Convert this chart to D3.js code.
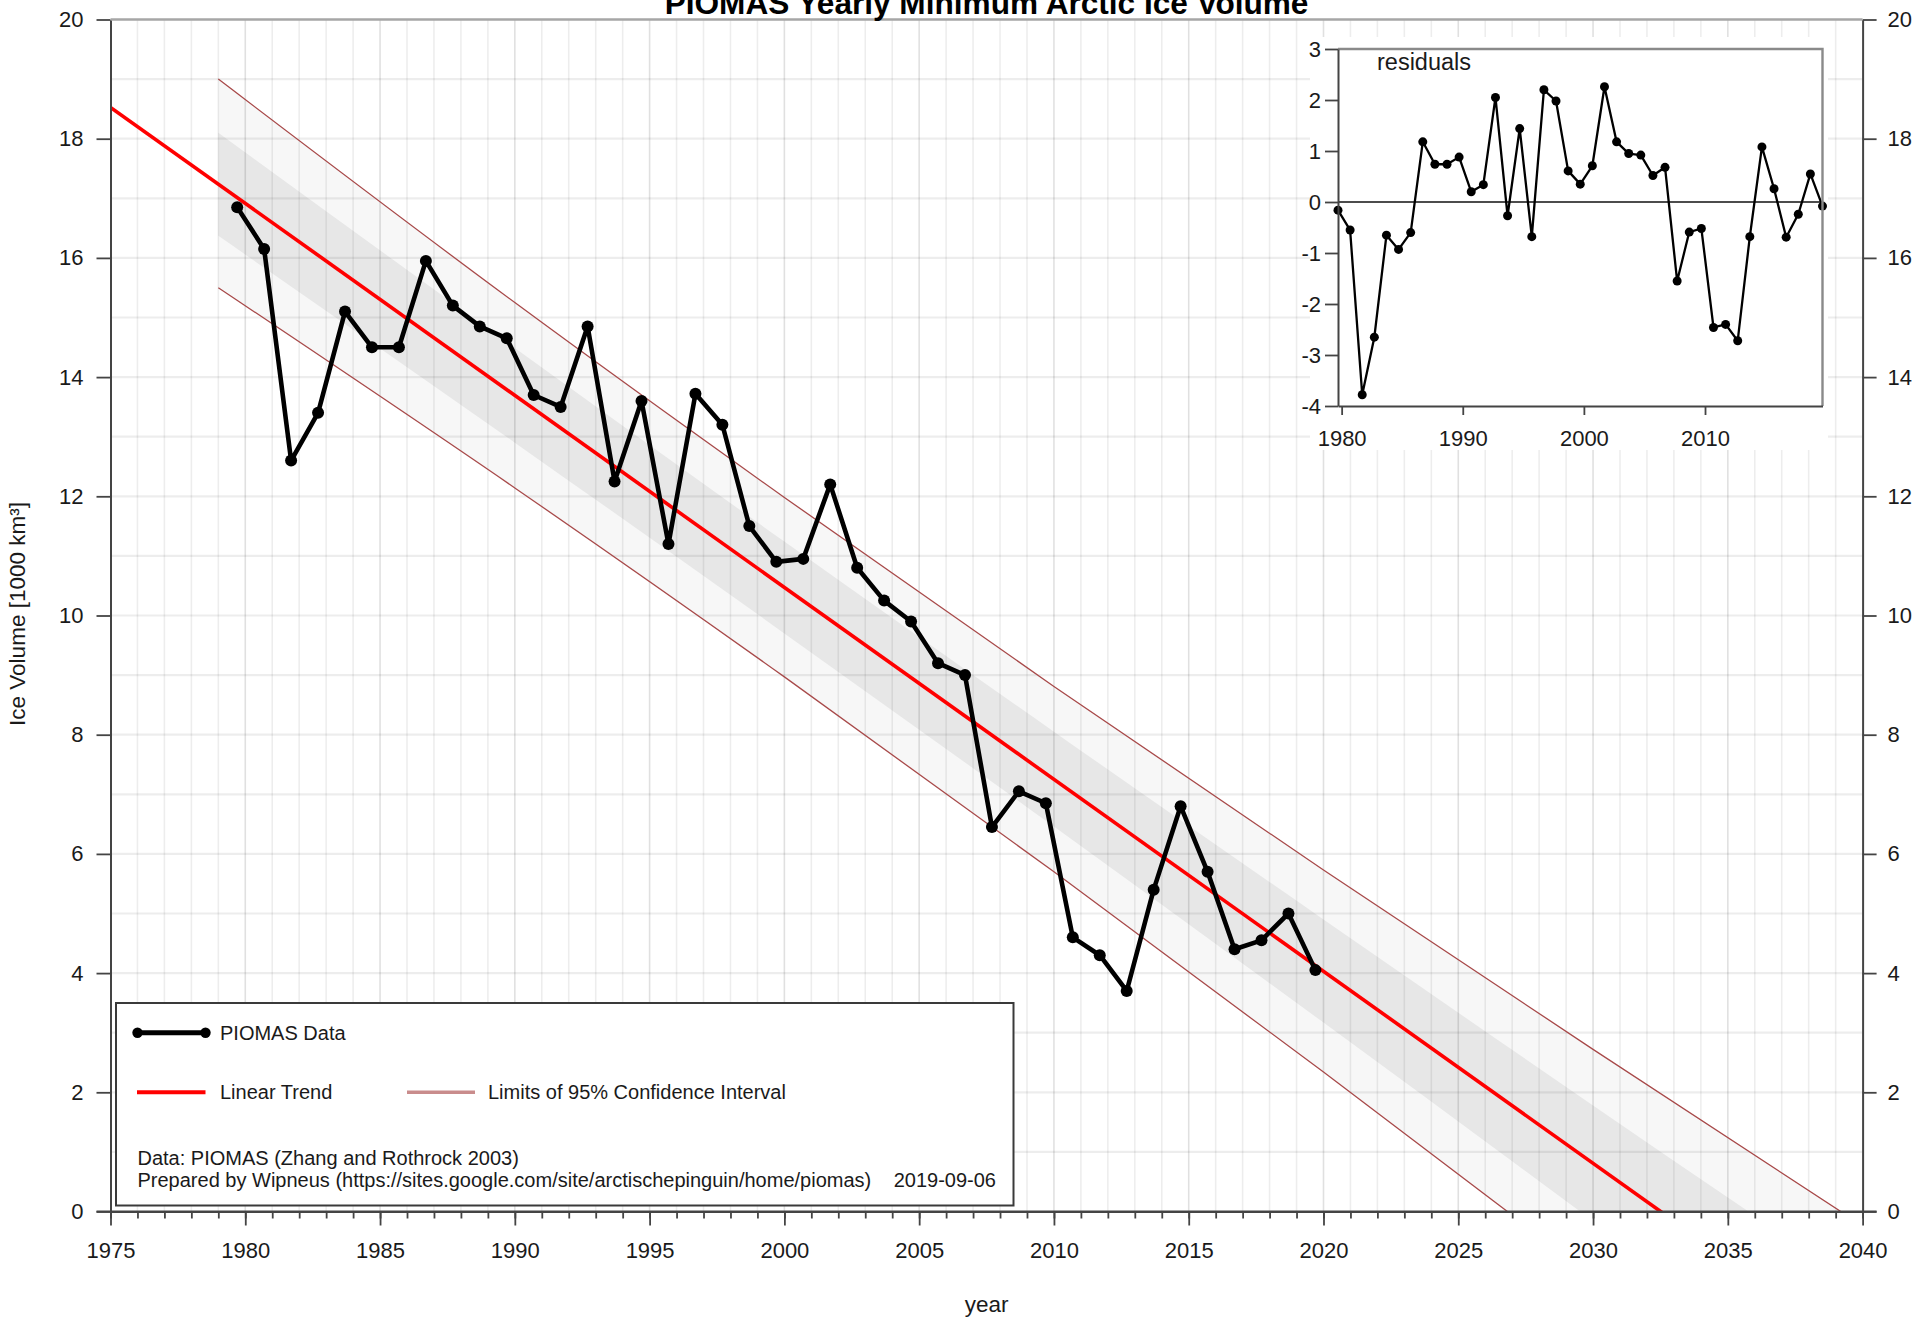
<!DOCTYPE html>
<html>
<head>
<meta charset="utf-8">
<script src="https://cdn.jsdelivr.net/npm/d3@7"></script>
<style>
  html, body { margin: 0; padding: 0; background: #fff; }
  svg { display: block; }
  text { font-family: "Liberation Sans", Arial, Helvetica, sans-serif; }
</style>
</head>
<body>
<svg id="chart" width="1917" height="1320"></svg>
<script>
// ---- data -------------------------------------------------------------
const years = [1979, 1980, 1981, 1982, 1983, 1984, 1985, 1986, 1987, 1988,
               1989, 1990, 1991, 1992, 1993, 1994, 1995, 1996, 1997, 1998,
               1999, 2000, 2001, 2002, 2003, 2004, 2005, 2006, 2007, 2008,
               2009, 2010, 2011, 2012, 2013, 2014, 2015, 2016, 2017, 2018, 2019];

// yearly minimum volume, 1000 km³
const volume = [16.85, 16.15, 12.60, 13.40, 15.10, 14.50, 14.50, 15.95, 15.20, 14.85,
                14.65, 13.70, 13.50, 14.85, 12.25, 13.60, 11.20, 13.72, 13.20, 11.50,
                10.90, 10.95, 12.20, 10.80, 10.25, 9.90, 9.20, 9.00, 6.45, 7.05,
                6.85, 4.60, 4.30, 3.70, 5.40, 6.80, 5.70, 4.40, 4.55, 5.00, 4.05];

// deviation from the linear trend, 1000 km³
const residuals = [-0.16, -0.55, -3.78, -2.65, -0.65, -0.93, -0.60, 1.18, 0.74, 0.74,
                   0.88, 0.20, 0.34, 2.05, -0.27, 1.44, -0.68, 2.20, 1.98, 0.61,
                   0.35, 0.71, 2.26, 1.18, 0.95, 0.92, 0.52, 0.68, -1.55, -0.59,
                   -0.52, -2.46, -2.40, -2.72, -0.68, 1.08, 0.26, -0.69, -0.24, 0.55, -0.08];

// confidence envelope around the trend
const bandYears     = [1979, 1990, 2000, 2010, 2020, 2030, 2040];
const limit95Upper  = [19.00, 15.25, 11.98, 8.81, 5.73, 2.72, -0.24];
const limit95Lower  = [15.50, 12.14, 8.97, 5.70, 2.34, -1.09, -4.60];
const sigmaUpper    = [18.10, 14.49, 11.24, 8.05, 4.90, 1.78, -1.30];
const sigmaLower    = [16.37, 12.90, 9.70, 6.46, 3.17, -0.16, -3.51];

// axis ticks
const yTicks        = [0, 2, 4, 6, 8, 10, 12, 14, 16, 18, 20];
const xTicksMajor   = [1975, 1980, 1985, 1990, 1995, 2000, 2005, 2010, 2015, 2020, 2025, 2030, 2035, 2040];
const insetYTicks   = [-4, -3, -2, -1, 0, 1, 2, 3];
const insetXTicks   = [1980, 1990, 2000, 2010];

// the minimum is reached in mid September
const seasonOffset = 0.7;

// ---- layout -----------------------------------------------------------
const svg = d3.select("#chart");
const FONT = '"Liberation Sans", Arial, Helvetica, sans-serif';
const plot = { left: 110.5, right: 1862.6, top: 19.5, bottom: 1211.5 };

const x = d3.scaleLinear().domain([1975, 2040]).range([plot.left, plot.right]);
const y = d3.scaleLinear().domain([0, 20]).range([plot.bottom, plot.top]);

const pts = years.map((yr, i) => ({ t: yr + seasonOffset, v: volume[i], r: residuals[i] }));

// least squares trend
const mt = d3.mean(pts, d => d.t), mv = d3.mean(pts, d => d.v);
const slope = d3.sum(pts, d => (d.t - mt) * (d.v - mv)) / d3.sum(pts, d => (d.t - mt) ** 2);
const trend = t => mv + slope * (t - mt);

svg.append("rect").attr("width", 1917).attr("height", 1320).attr("fill", "#fff");

svg.append("defs").append("clipPath").attr("id", "plotClip")
  .append("rect")
  .attr("x", plot.left).attr("y", plot.top)
  .attr("width", plot.right - plot.left).attr("height", plot.bottom - plot.top);

const g = svg.append("g").attr("clip-path", "url(#plotClip)");

// ---- envelope ---------------------------------------------------------
const bandArea = (hi, lo) => d3.area()
  .curve(d3.curveMonotoneX)
  .x((d, i) => x(bandYears[i]))
  .y0((d, i) => y(lo[i]))
  .y1((d, i) => y(hi[i]))(bandYears);

g.append("path").attr("d", bandArea(limit95Upper, limit95Lower)).attr("fill", "#f7f7f7");
g.append("path").attr("d", bandArea(sigmaUpper, sigmaLower)).attr("fill", "#e7e7e7");

// ---- grid -------------------------------------------------------------
const grid = g.append("g");
grid.selectAll("line.gx").data(d3.range(1976, 2040)).join("line")
  .attr("x1", d => x(d)).attr("x2", d => x(d))
  .attr("y1", plot.top).attr("y2", plot.bottom)
  .attr("stroke", d => d % 5 === 0 ? "rgba(0,0,0,0.12)" : "rgba(0,0,0,0.07)")
  .attr("stroke-width", 1.6);
grid.selectAll("line.gy").data(d3.range(1, 20)).join("line")
  .attr("x1", plot.left).attr("x2", plot.right)
  .attr("y1", d => y(d)).attr("y2", d => y(d))
  .attr("stroke", "rgba(0,0,0,0.07)")
  .attr("stroke-width", 2.2);

// ---- confidence limits and trend --------------------------------------
const bandLine = vals => d3.line()
  .curve(d3.curveMonotoneX)
  .x((d, i) => x(bandYears[i]))
  .y((d, i) => y(vals[i]))(bandYears);

[limit95Upper, limit95Lower].forEach(vals => {
  g.append("path").attr("d", bandLine(vals))
    .attr("fill", "none").attr("stroke", "#a84a4a").attr("stroke-width", 1.3);
});

g.append("line")
  .attr("x1", x(1975)).attr("y1", y(trend(1975)))
  .attr("x2", x(2040)).attr("y2", y(trend(2040)))
  .attr("stroke", "#ff0000").attr("stroke-width", 3.6);

// ---- PIOMAS series ----------------------------------------------------
g.append("path")
  .attr("d", d3.line().x(d => x(d.t)).y(d => y(d.v))(pts))
  .attr("fill", "none").attr("stroke", "#000").attr("stroke-width", 4.6)
  .attr("stroke-linejoin", "round");
g.selectAll("circle.pt").data(pts).join("circle")
  .attr("cx", d => x(d.t)).attr("cy", d => y(d.v)).attr("r", 6).attr("fill", "#000");

// ---- axes -------------------------------------------------------------
function styleAxis(sel, size) {
  sel.selectAll("text").attr("font-size", size).attr("fill", "#1a1a1a").style("font-family", FONT);
  sel.selectAll("line").attr("stroke", "#444").attr("stroke-width", 1.8);
  sel.select(".domain").attr("stroke", "#444").attr("stroke-width", 2);
}

const fmt = d => String(d);

const axL = svg.append("g").attr("transform", `translate(${plot.left},0)`)
  .call(d3.axisLeft(y).tickValues(yTicks).tickSize(14).tickPadding(13).tickSizeOuter(0).tickFormat(fmt));
styleAxis(axL, 22);

const axR = svg.append("g").attr("transform", `translate(${plot.right},0)`)
  .call(d3.axisRight(y).tickValues(yTicks).tickSize(14).tickPadding(11).tickSizeOuter(0).tickFormat(fmt));
styleAxis(axR, 22);

const axMinor = svg.append("g").attr("transform", `translate(0,${plot.bottom})`)
  .call(d3.axisBottom(x).tickValues(d3.range(1975, 2041)).tickSize(7).tickSizeOuter(0).tickFormat(""));
styleAxis(axMinor, 22);

const axB = svg.append("g").attr("transform", `translate(0,${plot.bottom})`)
  .call(d3.axisBottom(x).tickValues(xTicksMajor).tickSize(14).tickPadding(17).tickSizeOuter(0).tickFormat(fmt));
styleAxis(axB, 22);

// the bottom rule carries on under the outer y ticks
svg.append("line")
  .attr("x1", plot.left - 14).attr("x2", plot.right + 14)
  .attr("y1", plot.bottom).attr("y2", plot.bottom)
  .attr("stroke", "#444").attr("stroke-width", 2);

// top frame
svg.append("line")
  .attr("x1", plot.left).attr("x2", plot.right)
  .attr("y1", plot.top).attr("y2", plot.top)
  .attr("stroke", "#a6a6a6").attr("stroke-width", 2.6);

// ---- titles -----------------------------------------------------------
svg.append("text")
  .attr("x", (plot.left + plot.right) / 2).attr("y", 13.5)
  .attr("text-anchor", "middle").attr("font-size", 31.6).attr("font-weight", "bold")
  .attr("fill", "#000")
  .text("PIOMAS Yearly Minimum Arctic Ice Volume");

svg.append("text")
  .attr("x", (plot.left + plot.right) / 2).attr("y", 1311.5)
  .attr("text-anchor", "middle").attr("font-size", 22.5).attr("fill", "#1a1a1a")
  .text("year");

svg.append("text")
  .attr("transform", "translate(25,614) rotate(-90)")
  .attr("text-anchor", "middle").attr("font-size", 22.5).attr("fill", "#1a1a1a")
  .text("Ice Volume [1000 km³]");

// ---- residuals inset --------------------------------------------------
const inset = { left: 1338, right: 1822.5, top: 49, bottom: 406 };
const ix = d3.scaleLinear().domain([years[0] + seasonOffset, years[years.length - 1] + seasonOffset])
  .range([inset.left, inset.right]);
const iy = d3.scaleLinear().domain([-4, 3]).range([inset.bottom, inset.top]);

svg.append("rect")
  .attr("x", 1310).attr("y", 37).attr("width", 518).attr("height", 413)
  .attr("fill", "#fff");

svg.append("line")
  .attr("x1", inset.left).attr("x2", inset.right)
  .attr("y1", iy(0)).attr("y2", iy(0))
  .attr("stroke", "#111").attr("stroke-width", 1.5);

svg.append("path")
  .attr("d", d3.line().x(d => ix(d.t)).y(d => iy(d.r))(pts))
  .attr("fill", "none").attr("stroke", "#000").attr("stroke-width", 2.3)
  .attr("stroke-linejoin", "round");
svg.selectAll("circle.res").data(pts).join("circle")
  .attr("cx", d => ix(d.t)).attr("cy", d => iy(d.r)).attr("r", 4.5).attr("fill", "#000");

// grey top and right edges of the inset frame
svg.append("path")
  .attr("d", `M${inset.left},${inset.top}H${inset.right}V${inset.bottom}`)
  .attr("fill", "none").attr("stroke", "#8a8a8a").attr("stroke-width", 2.4);

const iaxL = svg.append("g").attr("transform", `translate(${inset.left},0)`)
  .call(d3.axisLeft(iy).tickValues(insetYTicks).tickSize(13).tickPadding(4).tickSizeOuter(0).tickFormat(fmt));
styleAxis(iaxL, 22);

const iaxB = svg.append("g").attr("transform", `translate(0,${inset.bottom})`)
  .call(d3.axisBottom(ix).tickValues(insetXTicks).tickSize(9).tickPadding(15).tickSizeOuter(0).tickFormat(fmt));
styleAxis(iaxB, 22);

svg.append("text")
  .attr("x", 1377).attr("y", 70)
  .attr("font-size", 23.5).attr("fill", "#1a1a1a")
  .text("residuals");

// ---- legend -----------------------------------------------------------
const lg = svg.append("g");
lg.append("rect")
  .attr("x", 116).attr("y", 1003).attr("width", 897.5).attr("height", 202.5)
  .attr("fill", "#fff").attr("stroke", "#3a3a3a").attr("stroke-width", 2);

lg.append("line").attr("x1", 137.5).attr("x2", 205.5).attr("y1", 1032.7).attr("y2", 1032.7)
  .attr("stroke", "#000").attr("stroke-width", 5);
[137.5, 205.5].forEach(cx => lg.append("circle").attr("cx", cx).attr("cy", 1032.7).attr("r", 5.2).attr("fill", "#000"));
lg.append("text").attr("x", 220).attr("y", 1039.5).attr("font-size", 20).attr("fill", "#1a1a1a").text("PIOMAS Data");

lg.append("line").attr("x1", 137).attr("x2", 205.5).attr("y1", 1092.3).attr("y2", 1092.3)
  .attr("stroke", "#ff0000").attr("stroke-width", 4);
lg.append("text").attr("x", 220).attr("y", 1099).attr("font-size", 20).attr("fill", "#1a1a1a").text("Linear Trend");

lg.append("line").attr("x1", 407).attr("x2", 475).attr("y1", 1092.3).attr("y2", 1092.3)
  .attr("stroke", "#c98c8c").attr("stroke-width", 3.6);
lg.append("text").attr("x", 488).attr("y", 1099).attr("font-size", 20).attr("fill", "#1a1a1a")
  .text("Limits of 95% Confidence Interval");

lg.append("text").attr("x", 137.5).attr("y", 1165).attr("font-size", 20).attr("fill", "#1a1a1a")
  .text("Data: PIOMAS (Zhang and Rothrock 2003)");
lg.append("text").attr("x", 137.5).attr("y", 1187.3).attr("font-size", 20).attr("fill", "#1a1a1a")
  .text("Prepared by Wipneus (https://sites.google.com/site/arctischepinguin/home/piomas)");
lg.append("text").attr("x", 996).attr("y", 1187.3).attr("text-anchor", "end").attr("font-size", 20).attr("fill", "#1a1a1a")
  .text("2019-09-06");
</script>
</body>
</html>
